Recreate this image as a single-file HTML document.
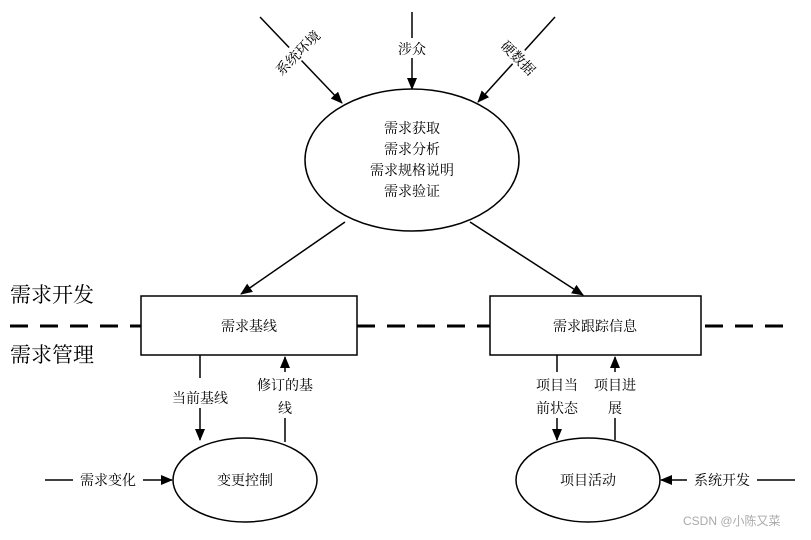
<!DOCTYPE html>
<html><head><meta charset="utf-8"><style>
body{margin:0;background:#fff;}
svg text{font-family:"Liberation Serif","Noto Serif CJK SC","Noto Sans CJK SC",serif;fill:#000;}
</style></head><body>
<svg width="811" height="535" viewBox="0 0 811 535" xmlns="http://www.w3.org/2000/svg">
<defs><marker id="a" markerWidth="12" markerHeight="10" refX="11" refY="5" orient="auto" markerUnits="userSpaceOnUse"><path d="M0,0 L12,5 L0,10 z" fill="#000"/></marker></defs>
<g stroke="#000" stroke-width="1.5" fill="none">
<line x1="260" y1="17" x2="342" y2="103" marker-end="url(#a)"/>
<line x1="412" y1="12" x2="412" y2="89" marker-end="url(#a)"/>
<line x1="555" y1="17" x2="478" y2="102" marker-end="url(#a)"/>
<ellipse cx="412" cy="160" rx="107" ry="71" fill="#fff"/>
<line x1="345" y1="222" x2="241" y2="294" marker-end="url(#a)"/>
<line x1="470" y1="222" x2="583" y2="295" marker-end="url(#a)"/>
<line x1="10" y1="326" x2="141" y2="326" stroke-width="3" stroke-dasharray="18,12"/>
<line x1="357" y1="326" x2="490" y2="326" stroke-width="3" stroke-dasharray="18,12"/>
<line x1="705" y1="326" x2="790" y2="326" stroke-width="3" stroke-dasharray="18,12"/>
<rect x="141" y="296" width="216" height="59" fill="#fff"/>
<rect x="490" y="296" width="211" height="59" fill="#fff"/>
<line x1="200" y1="355" x2="200" y2="440" marker-end="url(#a)"/>
<line x1="285" y1="442" x2="285" y2="357" marker-end="url(#a)"/>
<line x1="557" y1="355" x2="557" y2="440" marker-end="url(#a)"/>
<line x1="615" y1="440" x2="615" y2="357" marker-end="url(#a)"/>
<line x1="45" y1="480" x2="172" y2="480" marker-end="url(#a)"/>
<line x1="795" y1="480" x2="661" y2="480" marker-end="url(#a)"/>
<ellipse cx="245" cy="480" rx="72" ry="42" fill="#fff"/>
<ellipse cx="588" cy="480" rx="72" ry="42" fill="#fff"/>
</g>
<g font-size="14" text-anchor="middle">
<text x="412" y="133">需求获取</text>
<text x="412" y="154">需求分析</text>
<text x="412" y="175">需求规格说明</text>
<text x="412" y="196">需求验证</text>
<rect x="395" y="38" width="34" height="20" fill="#fff"/>
<text x="412" y="54">涉众</text>
<g transform="translate(300,55) rotate(-45)"><rect x="-34" y="-13" width="68" height="18" fill="#fff"/><text x="0" y="2">系统环境</text></g>
<g transform="translate(516,60) rotate(45)"><rect x="-26" y="-13" width="52" height="18" fill="#fff"/><text x="0" y="2">硬数据</text></g>
<text x="249" y="331">需求基线</text>
<text x="595" y="331">需求跟踪信息</text>
<rect x="165" y="378" width="70" height="30" fill="#fff"/>
<text x="200" y="403">当前基线</text>
<rect x="248" y="372" width="74" height="46" fill="#fff"/>
<text x="285" y="390">修订的基</text>
<text x="285" y="413">线</text>
<rect x="528" y="372" width="58" height="46" fill="#fff"/>
<text x="557" y="390">项目当</text>
<text x="557" y="413">前状态</text>
<rect x="588" y="372" width="54" height="46" fill="#fff"/>
<text x="615" y="390">项目进</text>
<text x="615" y="413">展</text>
<rect x="73" y="470" width="70" height="20" fill="#fff"/>
<text x="108" y="485">需求变化</text>
<rect x="687" y="470" width="70" height="20" fill="#fff"/>
<text x="722" y="485">系统开发</text>
<text x="245" y="485">变更控制</text>
<text x="588" y="485">项目活动</text>
</g>
<text x="10" y="302" font-size="21">需求开发</text>
<text x="10" y="362" font-size="21">需求管理</text>
<text x="683" y="525" font-size="12" style="fill:#aaa;font-family:'Liberation Sans','Noto Sans CJK SC',sans-serif">CSDN @小陈又菜</text>
</svg>
</body></html>
